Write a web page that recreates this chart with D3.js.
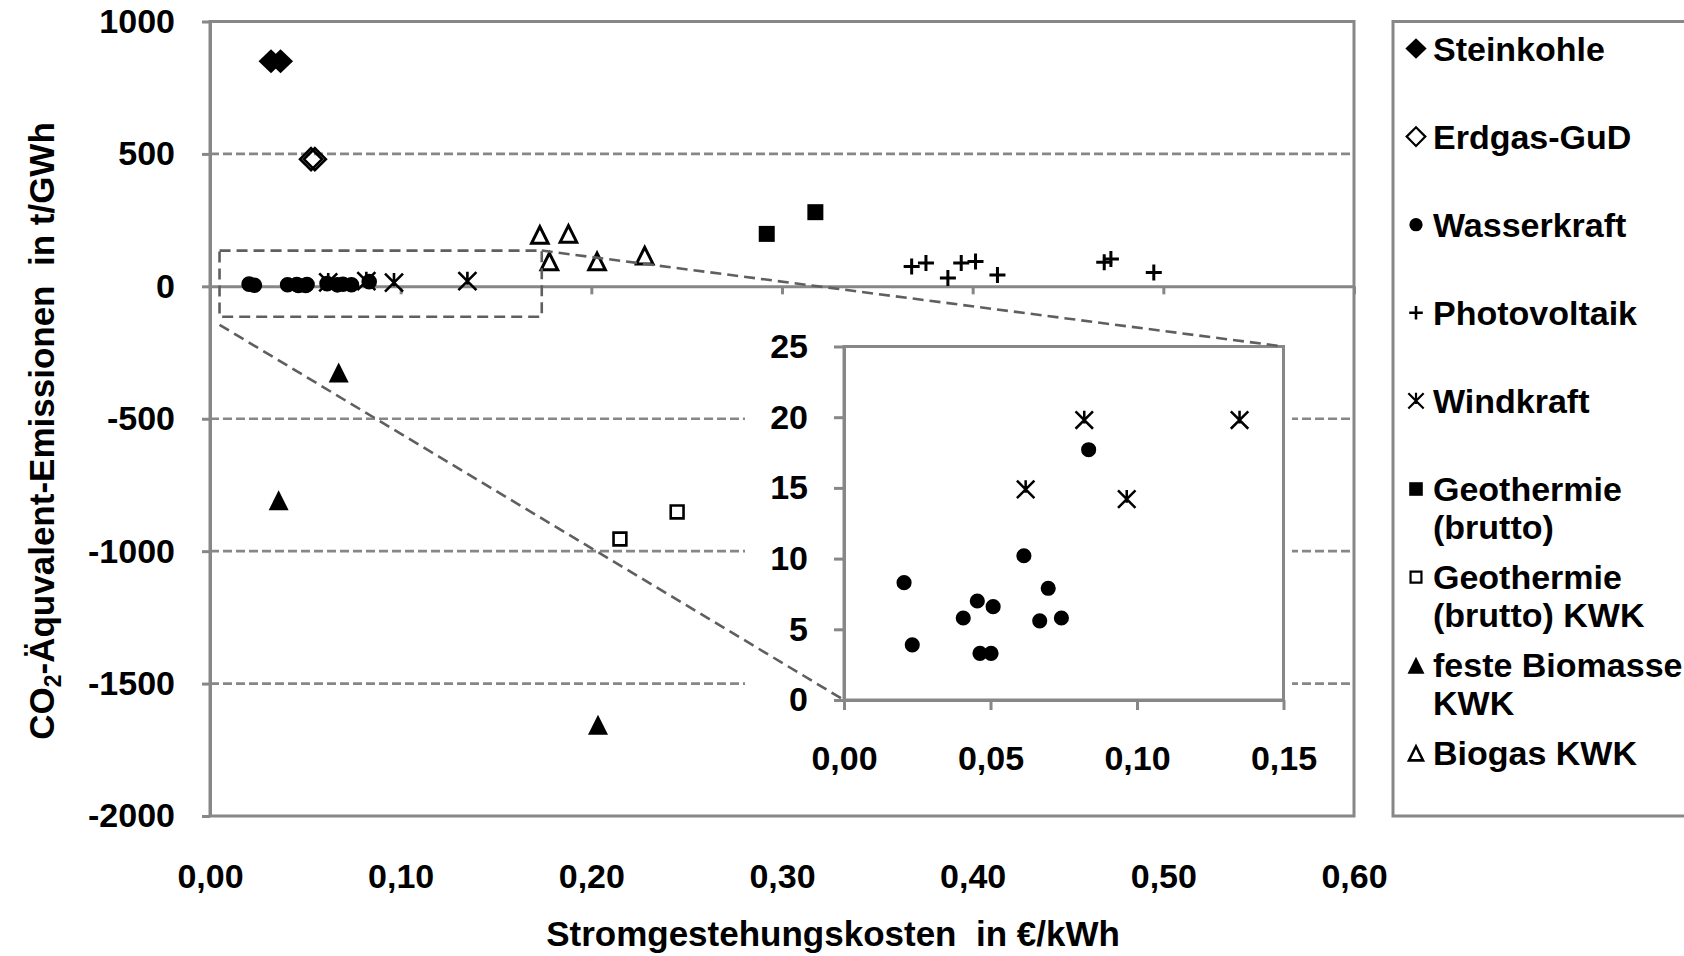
<!DOCTYPE html>
<html>
<head>
<meta charset="utf-8">
<script src="https://cdn.jsdelivr.net/npm/d3@7"></script>
<style>
  html, body { margin: 0; padding: 0; background: #fff; }
  svg { display: block; }
</style>
</head>
<body>
<svg id="chart" width="1684" height="956"></svg>
<script>
// ---- data: Stromgestehungskosten (€/kWh) vs. CO2-Äquivalent-Emissionen (t/GWh)
const steinkohleX = [0.032, 0.037];
const steinkohleY = [850, 850];

const erdgasX = [0.053, 0.055];
const erdgasY = [480, 480];

const wasserX = [0.0205, 0.0233, 0.0407, 0.0455, 0.0509, 0.0464, 0.0502, 0.0614, 0.0697, 0.0668, 0.0742, 0.0835];
const wasserY = [8.3, 3.9, 5.8, 7.0, 6.6, 3.3, 3.3, 10.2, 7.9, 5.6, 5.8, 17.7];

const pvX = [0.368, 0.3755, 0.387, 0.394, 0.4015, 0.413, 0.469, 0.4725, 0.495];
const pvY = [75, 88, 31, 88, 94, 43, 91, 103, 52];

const windX = [0.062, 0.082, 0.0965, 0.135];
const windY = [14.9, 19.8, 14.2, 19.8];

const geoX = [0.292, 0.3175];
const geoY = [198, 280];

const geoKwkX = [0.215, 0.245];
const geoKwkY = [-954, -852];

const biomasseX = [0.036, 0.0675, 0.2035];
const biomasseY = [-808, -325, -1655];

const biogasX = [0.173, 0.188, 0.178, 0.203, 0.228];
const biogasY = [194, 198, 94, 94, 116];

// axes
const xTicks = [0, 0.1, 0.2, 0.3, 0.4, 0.5, 0.6];
const xTickLabels = ["0,00", "0,10", "0,20", "0,30", "0,40", "0,50", "0,60"];
const yTicks = [-2000, -1500, -1000, -500, 0, 500, 1000];
const yTickLabels = ["-2000", "-1500", "-1000", "-500", "0", "500", "1000"];

// detail view (low-emission region)
const insetXTicks = [0, 0.05, 0.10, 0.15];
const insetXTickLabels = ["0,00", "0,05", "0,10", "0,15"];
const insetYTicks = [0, 5, 10, 15, 20, 25];
const insetYTickLabels = ["0", "5", "10", "15", "20", "25"];

// highlighted region in the main plot that the detail view enlarges
const zoomBoxX = [0.005, 0.174];
const zoomBoxY = [-115, 135];

const xTitle = "Stromgestehungskosten  in €/kWh";

// ---- series definitions
const pts = (xs, ys) => xs.map((v, i) => ({ x: v, y: ys[i] }));
const series = [
  { lines: ["Steinkohle"], marker: "diamond", data: pts(steinkohleX, steinkohleY) },
  { lines: ["Erdgas-GuD"], marker: "diamondOpen", data: pts(erdgasX, erdgasY) },
  { lines: ["Wasserkraft"], marker: "circle", data: pts(wasserX, wasserY), inset: true },
  { lines: ["Photovoltaik"], marker: "plus", data: pts(pvX, pvY) },
  { lines: ["Windkraft"], marker: "star", data: pts(windX, windY), inset: true },
  { lines: ["Geothermie", "(brutto)"], marker: "square", data: pts(geoX, geoY) },
  { lines: ["Geothermie", "(brutto) KWK"], marker: "squareOpen", data: pts(geoKwkX, geoKwkY) },
  { lines: ["feste Biomasse", "KWK"], marker: "triangle", data: pts(biomasseX, biomasseY) },
  { lines: ["Biogas KWK"], marker: "triangleOpen", data: pts(biogasX, biogasY) }
];

const FONT = '"Liberation Sans", Arial, Helvetica, sans-serif';
const GREY = "#878787";
const DASHGREY = "#5f5f5f";

// marker shapes: returns {d, fill, stroke, sw}
function marker(type, k) {
  // k scales the marker (1 = plot, smaller for legend)
  switch (type) {
    case "diamond": {
      const w = 12.5 * k, h = 12 * k;
      return { d: `M0,${-h}L${w},0L0,${h}L${-w},0Z`, fill: "#000", stroke: "none", sw: 0 };
    }
    case "diamondOpen": {
      const w = 11 * k, h = 11 * k;
      return { d: `M0,${-h}L${w},0L0,${h}L${-w},0Z`, fill: "none", stroke: "#000", sw: 2.6 * k };
    }
    case "circle": {
      const r = 7.8 * k;
      return { d: `M${-r},0A${r},${r} 0 1,0 ${r},0A${r},${r} 0 1,0 ${-r},0Z`, fill: "#000", stroke: "none", sw: 0 };
    }
    case "plus": {
      const s = 8 * k;
      return { d: `M${-s},0H${s}M0,${-s}V${s}`, fill: "none", stroke: "#000", sw: 3 * k };
    }
    case "star": {
      const s = 9 * k;
      return { d: `M${-s},${-s}L${s},${s}M${s},${-s}L${-s},${s}M0,${-s * 1.05}V${s * 0.4}`, fill: "none", stroke: "#000", sw: 2.6 * k };
    }
    case "square": {
      const s = 8 * k;
      return { d: `M${-s},${-s}H${s}V${s}H${-s}Z`, fill: "#000", stroke: "none", sw: 0 };
    }
    case "squareOpen": {
      const s = 6.4 * k;
      return { d: `M${-s},${-s}H${s}V${s}H${-s}Z`, fill: "#fff", stroke: "#000", sw: 2.6 * k };
    }
    case "triangle": {
      const s = 10 * k;
      return { d: `M0,${-s}L${s},${s}L${-s},${s}Z`, fill: "#000", stroke: "none", sw: 0 };
    }
    case "triangleOpen": {
      const s = 8.3 * k;
      return { d: `M0,${-s}L${s},${s}L${-s},${s}Z`, fill: "none", stroke: "#000", sw: 3 * k };
    }
  }
}

function drawMarkers(g, s, xs, ys, k) {
  const m = marker(s.marker, k);
  g.selectAll(null).data(s.data).join("path")
    .attr("transform", d => `translate(${xs(d.x)},${ys(d.y)})`)
    .attr("d", m.d)
    .attr("fill", m.fill)
    .attr("stroke", m.stroke)
    .attr("stroke-width", m.sw)
    .attr("stroke-linejoin", "miter");
}

const svg = d3.select("#chart");
svg.append("rect").attr("width", 1684).attr("height", 956).attr("fill", "#fff");

// ---- main plot
const x = d3.scaleLinear().domain([0, 0.6]).range([210, 1354]);
const y = d3.scaleLinear().domain([-2000, 1000]).range([816, 21.5]);

// dashed horizontal gridlines
svg.append("g").selectAll("line")
  .data(yTicks.filter(v => v !== 0 && v !== 1000 && v !== -2000))
  .join("line")
  .attr("x1", x(0)).attr("x2", x(0.6))
  .attr("y1", d => y(d)).attr("y2", d => y(d))
  .attr("stroke", GREY).attr("stroke-width", 2.6).attr("stroke-dasharray", "9,4");

// plot area border
svg.append("rect")
  .attr("x", x(0)).attr("y", y(1000))
  .attr("width", x(0.6) - x(0)).attr("height", y(-2000) - y(1000))
  .attr("fill", "none").attr("stroke", GREY).attr("stroke-width", 3);

function styleAxis(g, size) {
  g.attr("font-family", FONT).attr("font-size", size).attr("font-weight", "bold").attr("color", GREY);
  g.selectAll("path, line").attr("stroke", GREY).attr("stroke-width", 3);
  g.selectAll("text").attr("fill", "#000");
}

// y axis
const gy = svg.append("g").attr("transform", `translate(${x(0)},0)`)
  .call(d3.axisLeft(y).tickValues(yTicks)
    .tickFormat(d => yTickLabels[yTicks.indexOf(d)])
    .tickSize(8).tickSizeOuter(0).tickPadding(27));
styleAxis(gy, 34);

// x axis line through zero with tick marks
const gx0 = svg.append("g").attr("transform", `translate(0,${y(0)})`)
  .call(d3.axisBottom(x).tickValues(xTicks).tickFormat("").tickSize(8).tickSizeOuter(0));
styleAxis(gx0, 34);

// x tick labels below the plot
const gxl = svg.append("g").attr("transform", `translate(0,${y(-2000)})`)
  .call(d3.axisBottom(x).tickValues(xTicks)
    .tickFormat(d => xTickLabels[xTicks.indexOf(d)])
    .tickSize(0).tickPadding(48));
styleAxis(gxl, 34);
gxl.select(".domain").remove();

// markers in main plot
const gm = svg.append("g");
series.forEach(s => drawMarkers(gm.append("g"), s, x, y, 1));

// ---- detail view
const ix = d3.scaleLinear().domain([0, 0.15]).range([844, 1283.5]);
const iy = d3.scaleLinear().domain([0, 25]).range([700, 346.5]);

svg.append("rect").attr("x", 745).attr("y", 322).attr("width", 547).attr("height", 468).attr("fill", "#fff");
svg.append("rect")
  .attr("x", ix(0)).attr("y", iy(25))
  .attr("width", ix(0.15) - ix(0)).attr("height", iy(0) - iy(25))
  .attr("fill", "#fff").attr("stroke", GREY).attr("stroke-width", 3);

const igy = svg.append("g").attr("transform", `translate(${ix(0)},0)`)
  .call(d3.axisLeft(iy).tickValues(insetYTicks)
    .tickFormat(d => insetYTickLabels[insetYTicks.indexOf(d)])
    .tickSize(10).tickSizeOuter(0).tickPadding(26));
styleAxis(igy, 34);

const igx = svg.append("g").attr("transform", `translate(0,${iy(0)})`)
  .call(d3.axisBottom(ix).tickValues(insetXTicks)
    .tickFormat(d => insetXTickLabels[insetXTicks.indexOf(d)])
    .tickSize(10).tickSizeOuter(0).tickPadding(36));
styleAxis(igx, 34);

const gi = svg.append("g");
series.filter(s => s.inset).forEach(s => drawMarkers(gi.append("g"), s, ix, iy, 0.97));

// ---- highlighted region and connector lines
const dashed = g => g.attr("fill", "none").attr("stroke", DASHGREY)
  .attr("stroke-width", 2.6).attr("stroke-dasharray", "11,6");
svg.append("rect")
  .attr("x", x(zoomBoxX[0])).attr("y", y(zoomBoxY[1]))
  .attr("width", x(zoomBoxX[1]) - x(zoomBoxX[0]))
  .attr("height", y(zoomBoxY[0]) - y(zoomBoxY[1]))
  .call(dashed);
svg.append("line")
  .attr("x1", x(zoomBoxX[1])).attr("y1", y(zoomBoxY[1]))
  .attr("x2", ix(0.15)).attr("y2", iy(25))
  .call(dashed);
svg.append("line")
  .attr("x1", x(zoomBoxX[0])).attr("y1", y(zoomBoxY[0]) + 8)
  .attr("x2", ix(0)).attr("y2", iy(0))
  .call(dashed);

// ---- legend
svg.append("rect").attr("x", 1393).attr("y", 21.5).attr("width", 400).attr("height", 794.5)
  .attr("fill", "#fff").attr("stroke", GREY).attr("stroke-width", 3);

const lg = svg.append("g");
series.forEach((s, i) => {
  const cy = 48.5 + 88.1 * i;
  const m = marker(s.marker, 0.85);
  lg.append("path").attr("transform", `translate(1416,${cy})`)
    .attr("d", m.d).attr("fill", m.fill).attr("stroke", m.stroke).attr("stroke-width", m.sw);
  const t = lg.append("text").attr("font-family", FONT).attr("font-size", 34)
    .attr("font-weight", "bold").attr("fill", "#000");
  s.lines.forEach((ln, j) => {
    t.append("tspan").attr("x", 1433).attr("y", cy + 12 + 38 * j).text(ln);
  });
});

// ---- axis titles
svg.append("text")
  .attr("x", 833).attr("y", 946)
  .attr("text-anchor", "middle")
  .style("white-space", "pre")
  .attr("font-family", FONT).attr("font-size", 35).attr("font-weight", "bold")
  .text(xTitle);

const yt = svg.append("text")
  .attr("transform", "translate(54,431) rotate(-90)")
  .attr("text-anchor", "middle")
  .style("white-space", "pre")
  .attr("font-family", FONT).attr("font-size", 35).attr("font-weight", "bold");
yt.append("tspan").text("CO");
yt.append("tspan").attr("font-size", 23).attr("dy", 7).text("2");
yt.append("tspan").attr("dy", -7).text("-Äquvalent-Emissionen  in t/GWh");
</script>
</body>
</html>
